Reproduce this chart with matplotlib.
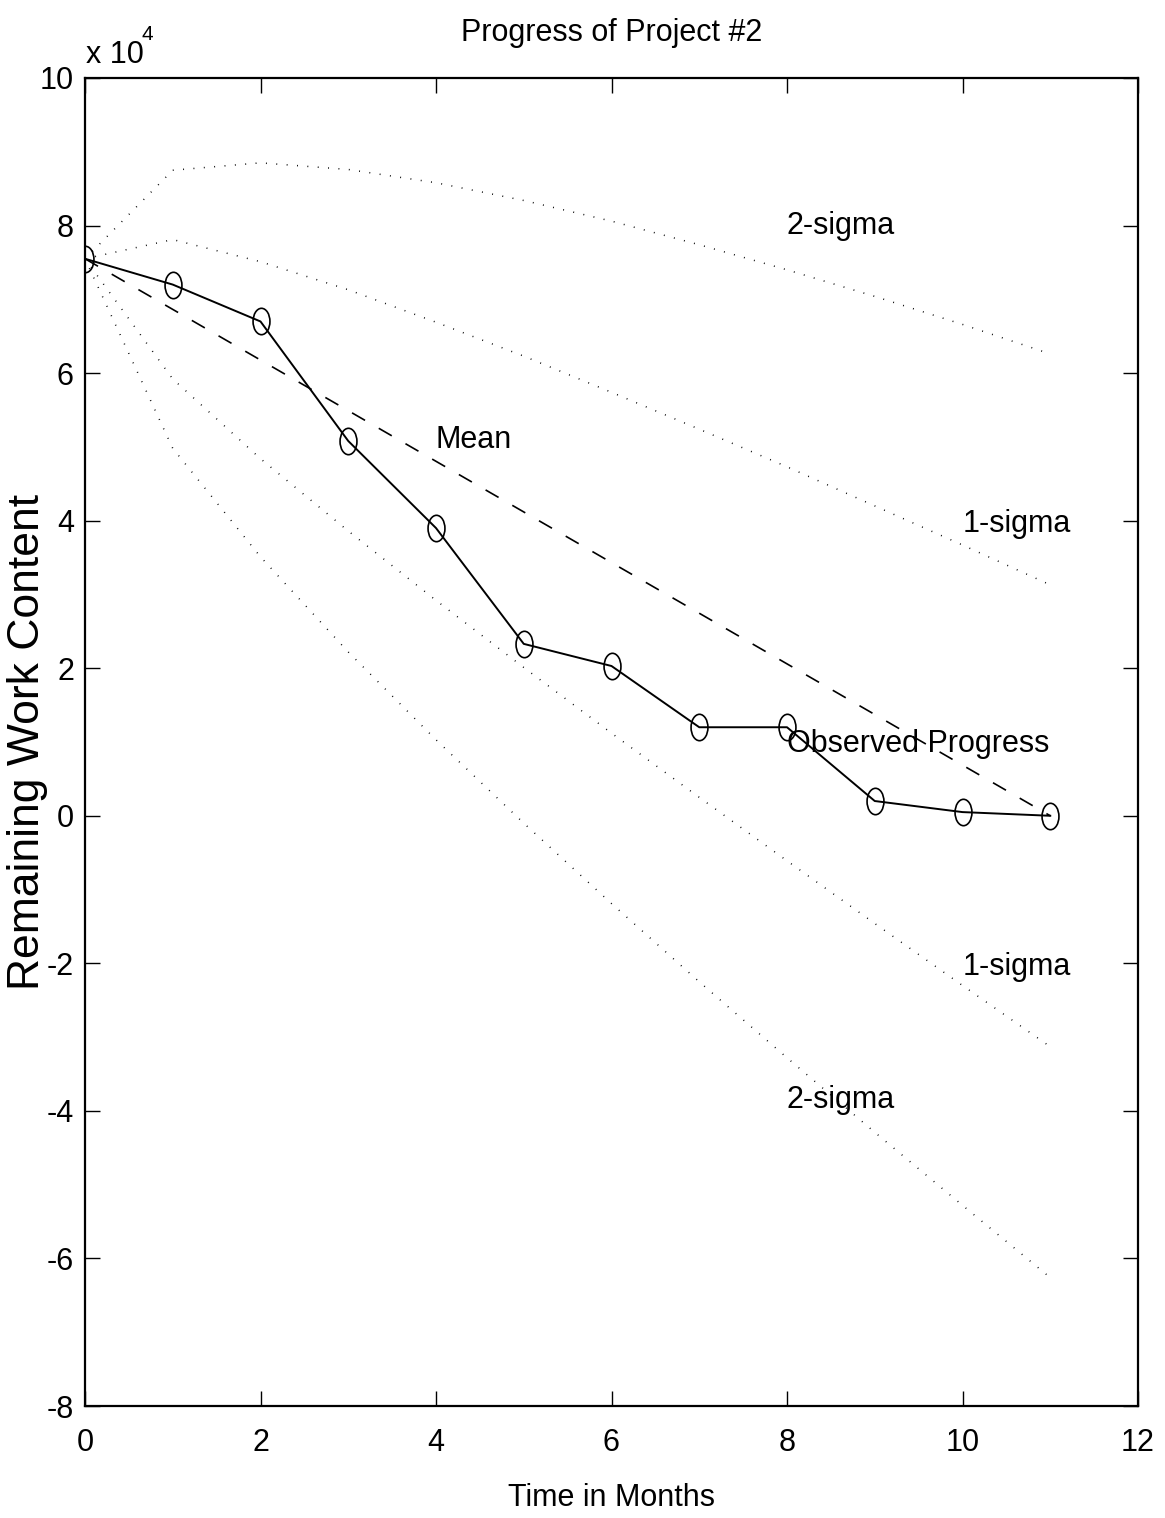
import matplotlib
matplotlib.use("Agg")
import matplotlib.pyplot as plt
from matplotlib.path import Path
from matplotlib.transforms import Affine2D
from matplotlib.ticker import FuncFormatter, MultipleLocator

# values (remaining work content, units of 1e4)
months = [0, 1, 2, 3, 4, 5, 6, 7, 8, 9, 10, 11]
observed = [7.55, 7.20, 6.70, 5.08, 3.90, 2.33, 2.03, 1.20, 1.20, 0.20, 0.05, 0.00]
mean_t = [0, 11]
mean_y = [7.55, 0.00]
upper_1 = [7.55, 7.81, 7.51, 7.13, 6.69, 6.23, 5.74, 5.24, 4.73, 4.20, 3.67, 3.13]
lower_1 = [7.55, 5.92, 4.84, 3.86, 2.92, 2.01, 1.12, 0.25, -0.61, -1.46, -2.30, -3.13]
upper_2 = [7.55, 8.75, 8.85, 8.76, 8.58, 8.34, 8.06, 7.74, 7.40, 7.04, 6.66, 6.26]
lower_2 = [7.55, 4.98, 3.51, 2.22, 1.03, -0.10, -1.19, -2.25, -3.28, -4.29, -5.28, -6.26]
scale = 1e4

plt.rcParams['font.family'] = ['Liberation Sans', 'DejaVu Sans']
fs = 22

fig = plt.figure(figsize=(11.65, 15.18), dpi=100)
ax = fig.add_axes([85 / 1165, 1 - 1406 / 1518, (1138 - 85) / 1165, (1406 - 78) / 1518])

dots = (0, (0.6, 6.2))
for band in (upper_2, upper_1, lower_1, lower_2):
    ax.plot(months, [v * scale for v in band], color='black', lw=1.1, linestyle=dots)

ax.plot(mean_t, [v * scale for v in mean_y], color='black', lw=1.2, dashes=(9, 9.5))

# tall open circle like the original markers
ellipse = Path.unit_circle().transformed(Affine2D().scale(0.64, 1.0))
ax.plot(months, [v * scale for v in observed], color='black', lw=1.4,
        marker=ellipse, markersize=19, markerfacecolor='none',
        markeredgecolor='black', markeredgewidth=1.2)

labels = [(8, 8.0, '2-sigma'), (10, 3.95, '1-sigma'), (4, 5.1, 'Mean'),
          (8, 0.97, 'Observed Progress'), (10, -2.05, '1-sigma'), (8, -3.85, '2-sigma')]
for x, y, s in labels:
    ax.text(x, y * scale, s, fontsize=fs, ha='left', va='center')

ax.set_xlim(0, 12)
ax.set_ylim(-8 * scale, 10 * scale)
ax.xaxis.set_major_locator(MultipleLocator(2))
ax.yaxis.set_major_locator(MultipleLocator(2 * scale))
ax.yaxis.set_major_formatter(FuncFormatter(lambda v, p: f"{v / scale:g}"))
ax.tick_params(direction='in', length=11, width=1, labelsize=fs,
               top=True, right=True)
ax.tick_params(axis='x', pad=16)
ax.tick_params(axis='y', pad=8)
for spine in ax.spines.values():
    spine.set_linewidth(1.6)

ax.set_title('Progress of Project #2', fontsize=fs, pad=27)
ax.set_xlabel('Time in Months', fontsize=fs, labelpad=18)
ax.set_ylabel('Remaining Work Content', fontsize=32, va='center')
ax.yaxis.set_label_coords(-57 / 1053, 0.5)

fig.text(86 / 1165, 1 - 63 / 1518, 'x 10', fontsize=fs, va='baseline', ha='left')
fig.text(141 / 1165, 1 - 40 / 1518, '4', fontsize=15, va='baseline', ha='left')

fig.savefig('out.png', dpi=100)
